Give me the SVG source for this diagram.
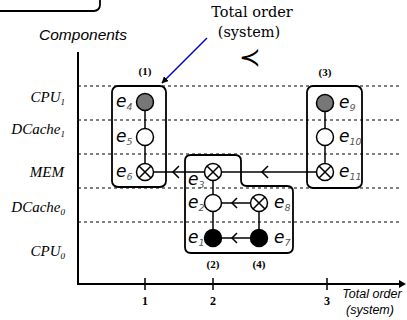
<svg xmlns="http://www.w3.org/2000/svg" width="407" height="320" viewBox="0 0 407 320">
<defs>
<style>
.dash{stroke:#000;stroke-width:1;stroke-dasharray:3,3;fill:none}
.axis{stroke:#000;stroke-width:2;fill:none}
.box{stroke:#000;stroke-width:1.8;fill:none}
.edge{stroke:#000;stroke-width:1.5;fill:none}
.node{stroke:#000;stroke-width:1.5;fill:#fff}
.gray{fill:#777}
.black{fill:#000}
.row{font-family:"Liberation Serif",serif;font-style:italic;font-size:15px;fill:#000;text-anchor:end}
.sub{font-size:9px}
.el{font-family:"DejaVu Sans",sans-serif;font-style:italic;font-size:17px;fill:#000}
.es{font-size:9.5px;fill:#555}
.grp{font-family:"Liberation Serif",serif;font-weight:bold;font-size:11px;text-anchor:middle}
.tick{font-family:"Liberation Serif",serif;font-weight:bold;font-size:12px;text-anchor:middle}
.ital{font-family:"Liberation Sans",sans-serif;font-style:italic}
.lg{font-family:"DejaVu Serif",serif;font-size:14.5px;text-anchor:middle}
</style>
<marker id="ah" viewBox="0 0 10 10" refX="9" refY="5" markerWidth="7" markerHeight="7" orient="auto" markerUnits="userSpaceOnUse">
<path d="M0,0 L10,5 L0,10 Z" fill="#000"/>
</marker>
</defs>

<rect x="-10" y="-10" width="110" height="21" rx="6" class="box"/>

<g id="grid">
<line x1="78" y1="86" x2="400" y2="86" class="dash"/>
<line x1="78" y1="120" x2="400" y2="120" class="dash"/>
<line x1="78" y1="154" x2="400" y2="154" class="dash"/>
<line x1="78" y1="188" x2="400" y2="188" class="dash"/>
<line x1="78" y1="222" x2="400" y2="222" class="dash"/>
</g>

<g id="axes">
<line x1="78" y1="52" x2="78" y2="284" class="axis"/>
<line x1="77" y1="284" x2="403" y2="284" class="axis"/>
<path d="M399,280 L406,284 L399,288 Z" fill="#000"/>
<line x1="145" y1="278" x2="145" y2="290" class="edge"/>
<line x1="213" y1="278" x2="213" y2="290" class="edge"/>
<line x1="327" y1="278" x2="327" y2="290" class="edge"/>
<text x="145" y="305" class="tick">1</text>
<text x="213" y="305" class="tick">2</text>
<text x="327" y="305" class="tick">3</text>
<text x="372" y="298" class="ital" font-size="12.5" text-anchor="middle">Total order</text>
<text x="370" y="314" class="ital" font-size="12.5" text-anchor="middle">(system)</text>
<text x="83" y="40" class="ital" font-size="15.5" text-anchor="middle">Components</text>
</g>

<g id="row-labels">
<text x="65" y="102" class="row">CPU<tspan class="sub" dy="3">1</tspan></text>
<text x="65" y="134" class="row">DCache<tspan class="sub" dy="3">1</tspan></text>
<text x="64" y="177" class="row">MEM</text>
<text x="65" y="212" class="row">DCache<tspan class="sub" dy="3">0</tspan></text>
<text x="65" y="256" class="row">CPU<tspan class="sub" dy="3">0</tspan></text>
</g>

<g id="legend">
<text x="252" y="17" class="lg">Total order</text>
<text x="249" y="37" class="lg">(system)</text>
<text x="250" y="66" font-family="DejaVu Serif,serif" font-size="26" text-anchor="middle">≺</text>
<line x1="207" y1="38" x2="162" y2="83" stroke="#0000cc" stroke-width="1.5" marker-end="url(#ah)"/>
</g>

<g id="groups">
<g id="group1">
<rect x="112" y="86" width="54" height="101" rx="6" class="box"/>
<text x="145" y="75" class="grp">(1)</text>
</g>
<g id="group2">
<path d="M191,155 H235 Q241,155 241,161 V180 Q241,186 247,186 H287 Q293,186 293,192 V247 Q293,253 287,253 H191 Q185,253 185,247 V161 Q185,155 191,155 Z" class="box"/>
<text x="213" y="268" class="grp">(2)</text>
<text x="259" y="268" class="grp">(4)</text>
</g>
<g id="group3">
<rect x="307" y="86" width="55" height="102" rx="6" class="box"/>
<text x="325" y="76" class="grp">(3)</text>
</g>
</g>

<g id="connectors">
<line x1="145" y1="102" x2="145" y2="172" class="edge"/>
<line x1="325" y1="103" x2="325" y2="172" class="edge"/>
<line x1="213" y1="172" x2="213" y2="238" class="edge"/>
<line x1="259" y1="203" x2="259" y2="238" class="edge"/>
<line x1="154" y1="172" x2="316" y2="172" class="edge"/>
<path d="M268,166 L262,172 L268,178" class="edge"/>
<path d="M179,166 L173,172 L179,178" class="edge"/>
<line x1="222" y1="203" x2="250" y2="203" class="edge"/>
<path d="M237,198 L232,203 L237,208" class="edge"/>
<line x1="222" y1="238" x2="250" y2="238" class="edge"/>
<path d="M237,233 L232,238 L237,243" class="edge"/>
</g>

<g id="e4"><circle cx="145" cy="102" r="8.5" class="node gray"/><text x="116" y="107" class="el">e<tspan class="es" dy="3">4</tspan></text></g>
<g id="e5"><circle cx="145" cy="137" r="8.5" class="node"/><text x="116" y="142" class="el">e<tspan class="es" dy="3">5</tspan></text></g>
<g id="e6"><circle cx="145" cy="172" r="8.5" class="node"/><path d="M139,166 L151,178 M151,166 L139,178" class="edge"/><text x="116" y="177" class="el">e<tspan class="es" dy="3">6</tspan></text></g>
<g id="e3"><circle cx="213" cy="172" r="8.5" class="node"/><path d="M207,166 L219,178 M219,166 L207,178" class="edge"/><text x="188" y="185" class="el">e<tspan class="es" dy="3">3</tspan></text></g>
<g id="e2"><circle cx="213" cy="203" r="8.5" class="node"/><text x="188" y="208" class="el">e<tspan class="es" dy="3">2</tspan></text></g>
<g id="e1"><circle cx="213" cy="238" r="8.5" class="node black"/><text x="188" y="243" class="el">e<tspan class="es" dy="3">1</tspan></text></g>
<g id="e8"><circle cx="259" cy="203" r="8.5" class="node"/><path d="M253,197 L265,209 M265,197 L253,209" class="edge"/><text x="274" y="208" class="el">e<tspan class="es" dy="3">8</tspan></text></g>
<g id="e7"><circle cx="259" cy="238" r="8.5" class="node black"/><text x="274" y="243" class="el">e<tspan class="es" dy="3">7</tspan></text></g>
<g id="e9"><circle cx="325" cy="103" r="8.5" class="node gray"/><text x="339" y="108" class="el">e<tspan class="es" dy="3">9</tspan></text></g>
<g id="e10"><circle cx="325" cy="137" r="8.5" class="node"/><text x="339" y="142" class="el">e<tspan class="es" dy="3">10</tspan></text></g>
<g id="e11"><circle cx="325" cy="172" r="8.5" class="node"/><path d="M319,166 L331,178 M331,166 L319,178" class="edge"/><text x="339" y="177" class="el">e<tspan class="es" dy="3">11</tspan></text></g>
</svg>
